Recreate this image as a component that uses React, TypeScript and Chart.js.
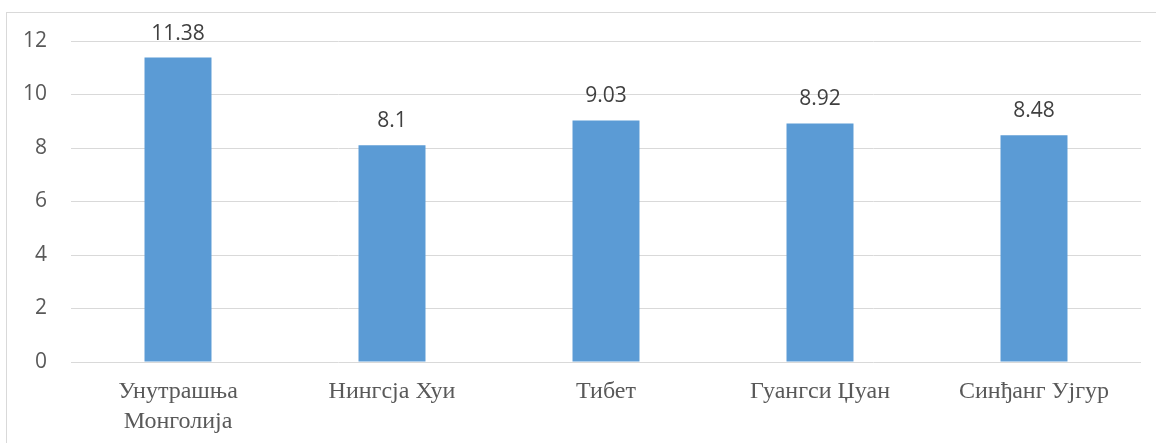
import React, { useEffect, useRef } from "react";
import { Chart, registerables } from "chart.js";

Chart.register(...registerables);

const categories: (string | string[])[] = [
  ["Унутрашња", "Монголија"],
  "Нингсја Хуи",
  "Тибет",
  "Гуангси Џуан",
  "Синђанг Ујгур",
];
const values: number[] = [11.38, 8.1, 9.03, 8.92, 8.48];
const valueLabels: string[] = ["11.38", "8.1", "9.03", "8.92", "8.48"];
const yTicks: number[] = [0, 2, 4, 6, 8, 10, 12];

const dataLabelPlugin = {
  id: "dataLabels",
  afterDatasetsDraw(chart: any) {
    const ctx = chart.ctx;
    const meta = chart.getDatasetMeta(0);
    ctx.save();
    ctx.font = '21px "Open Sans"';
    ctx.fillStyle = "#404040";
    ctx.textAlign = "center";
    ctx.textBaseline = "alphabetic";
    meta.data.forEach((bar: any, i: number) => {
      ctx.fillText(valueLabels[i], bar.x, bar.y - 18);
    });
    ctx.restore();
  },
};

export default function App() {
  const ref = useRef<HTMLCanvasElement | null>(null);
  useEffect(() => {
    if (!ref.current) return;
    const chart = new Chart(ref.current, {
      type: "bar",
      data: {
        labels: categories,
        datasets: [
          {
            data: values,
            backgroundColor: "#5B9BD5",
            borderWidth: 0,
            categoryPercentage: 1,
            barPercentage: 0.313,
          },
        ],
      },
      options: {
        animation: false,
        responsive: false,
        maintainAspectRatio: false,
        layout: { padding: { top: 28, right: 15, left: 0, bottom: 0 } },
        plugins: {
          legend: { display: false },
          tooltip: { enabled: false },
        },
        scales: {
          x: {
            grid: { display: false, drawTicks: false },
            border: { display: false },
            ticks: {
              color: "#595959",
              font: { family: '"Liberation Serif"', size: 24, lineHeight: "30px" },
              padding: 15,
              maxRotation: 0,
              autoSkip: false,
            },
            afterFit: (scale: any) => {
              scale.height = 81;
            },
          },
          y: {
            min: 0,
            max: 12,
            afterBuildTicks: (scale: any) => {
              scale.ticks = yTicks.map((v) => ({ value: v }));
            },
            grid: { color: "#d9d9d9", lineWidth: 1, drawTicks: false },
            border: { display: false },
            ticks: {
              color: "#595959",
              font: { family: '"Open Sans"', size: 21 },
              padding: 24,
            },
            afterFit: (scale: any) => {
              scale.width = 64;
              scale.paddingTop = 0;
              scale.paddingBottom = 0;
            },
          },
        },
      },
      plugins: [dataLabelPlugin],
    });
    return () => chart.destroy();
  }, []);
  return (
    <div
      style={{
        position: "absolute",
        left: 6,
        top: 12,
        width: 1160,
        height: 440,
        borderLeft: "1px solid #d9d9d9",
        borderTop: "1px solid #d9d9d9",
        background: "#fff",
      }}
    >
      <canvas ref={ref} width={1149} height={430} style={{ display: "block" }} />
    </div>
  );
}
